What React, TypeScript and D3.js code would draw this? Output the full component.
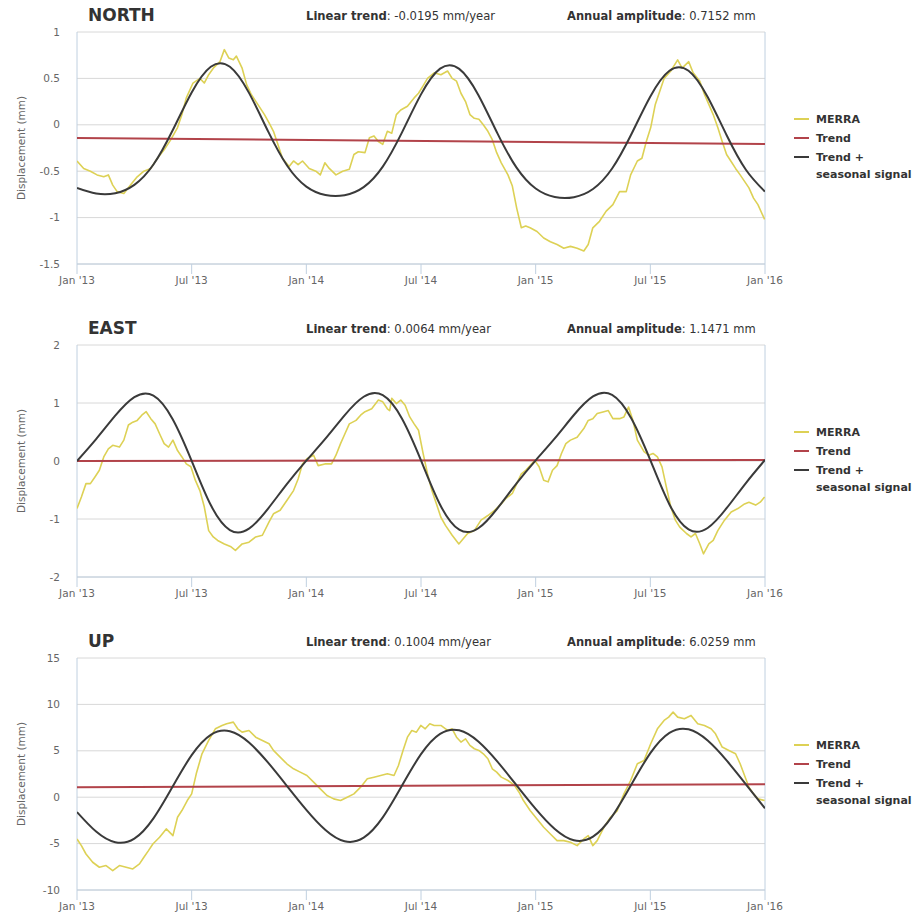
import React from "react";
import * as d3 from "d3";

// ---------- data ----------
const monthTickLabels = ["Jan '13", "Jul '13", "Jan '14", "Jul '14", "Jan '15", "Jul '15", "Jan '16"];
const monthTicks = [0, 6, 12, 18, 24, 30, 36];
const legendItems = ["MERRA", "Trend", "Trend +", "seasonal signal"];

const northTicks = [1, 0.5, 0, -0.5, -1, -1.5];
const eastTicks = [2, 1, 0, -1, -2];
const upTicks = [15, 10, 5, 0, -5, -10];

// [month offset from Jan 2013, displacement mm]
const merraNorth: [number, number][] = [
  [0, -0.39], [0.35, -0.47], [0.7, -0.5], [1.05, -0.54], [1.4, -0.56], [1.64, -0.54], [1.87, -0.65], [2.1, -0.72], [2.45, -0.74], [2.8, -0.65],
  [3.15, -0.56], [3.5, -0.5], [3.86, -0.47], [4.21, -0.36], [4.56, -0.27], [4.91, -0.16], [5.26, -0.03], [5.49, 0.11], [5.72, 0.29], [6.07, 0.45],
  [6.43, 0.5], [6.66, 0.45], [6.89, 0.54], [7.13, 0.61], [7.48, 0.68], [7.71, 0.81], [7.94, 0.72], [8.18, 0.7], [8.34, 0.74], [8.64, 0.61],
  [8.88, 0.43], [9.11, 0.33], [9.46, 0.22], [9.81, 0.11], [10.05, 0.02], [10.28, -0.07], [10.51, -0.21], [10.75, -0.36], [11.1, -0.45], [11.33, -0.39],
  [11.57, -0.43], [11.8, -0.39], [12.15, -0.47], [12.5, -0.5], [12.73, -0.54], [12.97, -0.41], [13.2, -0.47], [13.55, -0.54], [13.9, -0.5], [14.25, -0.48],
  [14.49, -0.32], [14.72, -0.29], [15.07, -0.3], [15.3, -0.14], [15.54, -0.12], [15.77, -0.18], [16.0, -0.21], [16.24, -0.07], [16.47, -0.09], [16.71, 0.11],
  [16.94, 0.16], [17.29, 0.2], [17.64, 0.29], [17.87, 0.34], [18.11, 0.42], [18.34, 0.5], [18.69, 0.56], [19.04, 0.54], [19.39, 0.58], [19.63, 0.5],
  [19.86, 0.47], [20.09, 0.34], [20.33, 0.25], [20.56, 0.11], [20.79, 0.07], [21.03, 0.06], [21.26, 0.0], [21.5, -0.07], [21.73, -0.16], [21.96, -0.3],
  [22.2, -0.41], [22.55, -0.54], [22.78, -0.66], [23.01, -0.9], [23.25, -1.11], [23.48, -1.09], [23.71, -1.11], [24.07, -1.15], [24.42, -1.22], [24.77, -1.26],
  [25.12, -1.29], [25.47, -1.33], [25.82, -1.31], [26.17, -1.33], [26.52, -1.36], [26.75, -1.29], [26.99, -1.11], [27.34, -1.04], [27.69, -0.93], [28.04, -0.86],
  [28.39, -0.72], [28.74, -0.72], [28.97, -0.54], [29.32, -0.39], [29.56, -0.36], [29.79, -0.18], [30.02, -0.03], [30.26, 0.22], [30.49, 0.36], [30.72, 0.5],
  [31.07, 0.58], [31.43, 0.7], [31.66, 0.61], [32.01, 0.68], [32.24, 0.56], [32.59, 0.47], [32.83, 0.33], [33.06, 0.22], [33.29, 0.11], [33.53, -0.03],
  [33.76, -0.18], [33.99, -0.32], [34.21, -0.39], [34.46, -0.47], [34.7, -0.54], [34.93, -0.61], [35.16, -0.68], [35.4, -0.79], [35.63, -0.86], [35.98, -1.02],
];

const merraEast: [number, number][] = [
  [0, -0.82], [0.23, -0.62], [0.47, -0.39], [0.7, -0.39], [0.93, -0.28], [1.17, -0.16], [1.4, 0.07], [1.64, 0.21], [1.87, 0.27], [2.22, 0.24],
  [2.45, 0.36], [2.69, 0.62], [2.92, 0.67], [3.15, 0.7], [3.39, 0.79], [3.62, 0.85], [3.86, 0.73], [4.09, 0.64], [4.32, 0.47], [4.56, 0.3],
  [4.79, 0.24], [5.02, 0.36], [5.26, 0.18], [5.49, 0.07], [5.72, -0.05], [5.96, -0.1], [6.19, -0.33], [6.43, -0.51], [6.66, -0.79], [6.89, -1.2],
  [7.13, -1.31], [7.36, -1.37], [7.71, -1.43], [8.06, -1.48], [8.29, -1.54], [8.64, -1.43], [9.0, -1.4], [9.35, -1.31], [9.7, -1.28], [10.05, -1.05],
  [10.28, -0.91], [10.63, -0.85], [10.98, -0.68], [11.33, -0.51], [11.57, -0.31], [11.8, -0.05], [12.03, 0.04], [12.38, 0.1], [12.62, -0.08], [12.97, -0.05],
  [13.32, -0.05], [13.55, 0.1], [13.79, 0.3], [14.02, 0.47], [14.25, 0.64], [14.6, 0.7], [14.84, 0.79], [15.07, 0.85], [15.42, 0.9], [15.77, 1.05],
  [16.0, 1.02], [16.24, 0.9], [16.36, 0.87], [16.47, 1.08], [16.71, 0.99], [16.94, 1.05], [17.17, 0.96], [17.41, 0.76], [17.64, 0.64], [17.87, 0.53],
  [18.11, 0.13], [18.34, -0.22], [18.57, -0.51], [18.81, -0.74], [19.04, -0.97], [19.28, -1.11], [19.63, -1.28], [19.98, -1.43], [20.21, -1.34], [20.44, -1.25],
  [20.79, -1.2], [21.14, -1.02], [21.5, -0.94], [21.85, -0.85], [22.2, -0.74], [22.43, -0.65], [22.78, -0.56], [23.01, -0.39], [23.25, -0.22], [23.48, -0.16],
  [23.71, -0.08], [23.95, 0.01], [24.18, -0.1], [24.42, -0.33], [24.65, -0.36], [24.88, -0.16], [25.12, -0.08], [25.35, 0.13], [25.58, 0.3], [25.82, 0.36],
  [26.17, 0.41], [26.52, 0.56], [26.75, 0.7], [26.99, 0.73], [27.22, 0.82], [27.57, 0.85], [27.8, 0.87], [28.04, 0.73], [28.39, 0.73], [28.62, 0.76],
  [28.86, 0.93], [29.09, 0.7], [29.32, 0.36], [29.67, 0.16], [29.91, 0.1], [30.14, 0.13], [30.37, 0.07], [30.61, -0.1], [30.84, -0.45], [31.07, -0.79],
  [31.31, -1.02], [31.54, -1.14], [31.89, -1.25], [32.13, -1.31], [32.36, -1.25], [32.59, -1.43], [32.78, -1.6], [33.06, -1.43], [33.29, -1.37], [33.53, -1.2],
  [33.88, -1.02], [34.23, -0.88], [34.58, -0.82], [34.93, -0.74], [35.16, -0.71], [35.51, -0.76], [35.75, -0.71], [35.98, -0.62],
];

const merraUp: [number, number][] = [
  [0, -4.5], [0.23, -5.22], [0.47, -6.12], [0.82, -7.01], [1.17, -7.55], [1.52, -7.37], [1.87, -7.91], [2.22, -7.37], [2.57, -7.55], [2.92, -7.73],
  [3.27, -7.19], [3.5, -6.47], [3.74, -5.76], [3.97, -5.04], [4.32, -4.32], [4.67, -3.42], [5.02, -4.14], [5.26, -2.16], [5.49, -1.44], [5.77, -0.36],
  [6.0, 0.36], [6.24, 2.52], [6.54, 4.68], [6.89, 6.12], [7.24, 7.37], [7.59, 7.73], [7.83, 7.91], [8.18, 8.09], [8.41, 7.37], [8.64, 7.01],
  [9.0, 7.19], [9.35, 6.47], [9.7, 6.12], [10.05, 5.76], [10.28, 5.04], [10.63, 4.32], [10.98, 3.6], [11.33, 3.06], [11.68, 2.7], [12.03, 2.34],
  [12.38, 1.62], [12.73, 0.9], [13.08, 0.18], [13.43, -0.18], [13.79, -0.36], [14.14, 0.0], [14.49, 0.36], [14.84, 1.08], [15.19, 1.98], [15.54, 2.16],
  [15.89, 2.34], [16.24, 2.52], [16.59, 2.34], [16.82, 3.42], [17.06, 5.04], [17.29, 6.47], [17.52, 7.19], [17.76, 7.01], [17.99, 7.73], [18.22, 7.37],
  [18.46, 7.91], [18.69, 7.73], [19.04, 7.73], [19.39, 7.19], [19.63, 7.37], [19.86, 6.47], [20.09, 5.94], [20.33, 6.29], [20.56, 5.58], [20.79, 5.22],
  [21.03, 5.04], [21.26, 4.68], [21.5, 4.14], [21.73, 3.06], [21.96, 2.7], [22.2, 2.16], [22.55, 1.8], [22.9, 1.26], [23.13, 0.54], [23.36, -0.36],
  [23.71, -1.44], [24.07, -2.34], [24.42, -3.24], [24.77, -3.96], [25.12, -4.68], [25.47, -4.68], [25.82, -4.86], [26.17, -5.22], [26.52, -4.5], [26.75, -4.14],
  [26.99, -5.22], [27.22, -4.68], [27.57, -3.24], [27.92, -2.16], [28.27, -1.44], [28.62, 0.36], [28.97, 1.8], [29.32, 3.6], [29.67, 3.96], [30.02, 5.76],
  [30.37, 7.37], [30.72, 8.27], [30.96, 8.63], [31.19, 9.17], [31.43, 8.63], [31.78, 8.45], [32.13, 8.81], [32.48, 7.91], [32.83, 7.73], [33.18, 7.37],
  [33.41, 6.83], [33.76, 5.4], [34.11, 5.04], [34.46, 4.68], [34.7, 3.6], [34.93, 2.34], [35.16, 1.08], [35.4, 0.36], [35.63, -0.18], [35.98, -0.36],
];

// Trend + seasonal signal, monthly values (Jan '13 .. Jan '16)
const modelNorth = [
  -0.68, -0.74, -0.737, -0.647, -0.428, -0.062, 0.349, 0.626, 0.625, 0.344, -0.071, -0.441,
  -0.666, -0.756, -0.758, -0.671, -0.45, -0.084, 0.328, 0.605, 0.603, 0.322, -0.093, -0.462,
  -0.687, -0.778, -0.78, -0.692, -0.471, -0.105, 0.306, 0.583, 0.582, 0.3, -0.115, -0.484, -0.72,
];
const modelEast = [
  0, 0.377, 0.781, 1.102, 1.128, 0.726, 0.003, -0.76, -1.19, -1.165, -0.82, -0.39,
  0.006, 0.384, 0.787, 1.108, 1.134, 0.732, 0.009, -0.755, -1.185, -1.16, -0.815, -0.385,
  0.012, 0.39, 0.793, 1.114, 1.14, 0.738, 0.015, -0.75, -1.18, -1.155, -0.81, -0.38, 0.018,
];
const modelUp = [
  -1.6, -3.7, -4.852, -4.47, -2.283, 1.125, 4.532, 6.719, 7.101, 5.889, 3.72, 1.178,
  -1.364, -3.533, -4.745, -4.363, -2.177, 1.231, 4.639, 6.826, 7.208, 5.996, 3.827, 1.285,
  -1.257, -3.426, -4.639, -4.257, -2.07, 1.338, 4.746, 6.933, 7.315, 6.103, 3.934, 1.392, -1.2,
];

// Linear trend: value at Jan '13 and Jan '16
const trendNorth = [-0.142, -0.207];
const trendEast = [0.0, 0.019];
const trendUp = [1.08, 1.4];

const titles = ["NORTH", "EAST", "UP"];
const linearTrendTexts = ["-0.0195 mm/year", "0.0064 mm/year", "0.1004 mm/year"];
const amplitudeTexts = ["0.7152 mm", "1.1471 mm", "6.0259 mm"];

// ---------- styles ----------
const FONT = "'DejaVu Sans', Verdana, sans-serif";
const C_MERRA = "#DDD155";
const C_TREND = "#B2434A";
const C_MODEL = "#3A3A3A";
const C_GRID = "#D8D8D8";
const C_AXIS = "#C0D0E0";
const C_LABEL = "#666666";

const PLOT_LEFT = 77;
const PLOT_RIGHT = 765;
const PANEL_TOP0 = 32;
const PANEL_STEP = 313;
const PLOT_H = 232;

interface PanelProps {
  idx: number;
  merra: [number, number][];
  model: number[];
  trend: number[];
  ticks: number[];
}

function Panel({ idx, merra, model, trend, ticks }: PanelProps) {
  const top = PANEL_TOP0 + idx * PANEL_STEP;
  const bottom = top + PLOT_H;
  const x = d3.scaleLinear().domain([0, 36]).range([PLOT_LEFT, PLOT_RIGHT]);
  const y = d3.scaleLinear().domain([d3.min(ticks)!, d3.max(ticks)!]).range([bottom, top]);

  const lineXY = d3.line<[number, number]>().x((d) => x(d[0])).y((d) => y(d[1]));
  const modelLine = d3
    .line<number>()
    .x((_, i) => x(i))
    .y((d) => y(d))
    .curve(d3.curveNatural);
  const trendPts: [number, number][] = [[0, trend[0]], [36, trend[1]]];
  const clipId = `clip-${idx}`;

  const legendY0 = top + 87;
  const legendColors = [C_MERRA, C_TREND, C_MODEL];

  return (
    <g>
      <defs>
        <clipPath id={clipId}>
          <rect x={PLOT_LEFT} y={top - 2} width={PLOT_RIGHT - PLOT_LEFT} height={PLOT_H + 4} />
        </clipPath>
      </defs>
      {/* title row */}
      <text x={88} y={top - 11} fontFamily={FONT} fontSize={17} fontWeight="bold" fill="#333">
        {titles[idx]}
      </text>
      <text x={306} y={top - 12} fontFamily={FONT} fontSize={11.6} fill="#333">
        <tspan fontWeight="bold">Linear trend</tspan>
        <tspan>: {linearTrendTexts[idx]}</tspan>
      </text>
      <text x={567} y={top - 12} fontFamily={FONT} fontSize={11.5} fill="#333">
        <tspan fontWeight="bold">Annual amplitude</tspan>
        <tspan>: {amplitudeTexts[idx]}</tspan>
      </text>

      {/* grid */}
      {ticks.map((t) => (
        <line key={t} x1={PLOT_LEFT} x2={PLOT_RIGHT} y1={y(t)} y2={y(t)} stroke={C_GRID} strokeWidth={1} />
      ))}
      {/* y labels */}
      {ticks.map((t) => (
        <text
          key={"l" + t}
          x={60}
          y={y(t)}
          dy="0.35em"
          textAnchor="end"
          fontFamily={FONT}
          fontSize={10.5}
          fill={C_LABEL}
        >
          {String(t)}
        </text>
      ))}
      {/* y title */}
      <text
        transform={`translate(25, ${(top + bottom) / 2}) rotate(-90)`}
        textAnchor="middle"
        fontFamily={FONT}
        fontSize={10.5}
        fill={C_LABEL}
      >
        Displacement (mm)
      </text>

      {/* axes */}
      <line x1={PLOT_LEFT} x2={PLOT_LEFT} y1={top} y2={bottom} stroke={C_AXIS} strokeWidth={1} />
      <line x1={PLOT_RIGHT} x2={PLOT_RIGHT} y1={top} y2={bottom} stroke={C_AXIS} strokeWidth={1} />
      <line x1={PLOT_LEFT} x2={PLOT_RIGHT} y1={bottom} y2={bottom} stroke={C_AXIS} strokeWidth={1} />
      {monthTicks.map((m, i) => (
        <g key={"x" + m}>
          <line x1={x(m)} x2={x(m)} y1={bottom} y2={bottom + 10} stroke={C_AXIS} strokeWidth={1} />
          <text
            x={x(m)}
            y={bottom + 16}
            dy="0.35em"
            textAnchor="middle"
            fontFamily={FONT}
            fontSize={10.5}
            fill={C_LABEL}
          >
            {monthTickLabels[i]}
          </text>
        </g>
      ))}

      {/* series */}
      <g clipPath={`url(#${clipId})`}>
        <path d={lineXY(merra)!} fill="none" stroke={C_MERRA} strokeWidth={1.6} strokeLinejoin="round" />
        <path d={lineXY(trendPts)!} fill="none" stroke={C_TREND} strokeWidth={2} />
        <path d={modelLine(model)!} fill="none" stroke={C_MODEL} strokeWidth={2} />
      </g>

      {/* legend */}
      {[0, 1, 2].map((k) => (
        <line
          key={"lg" + k}
          x1={794}
          x2={809}
          y1={legendY0 + k * 19}
          y2={legendY0 + k * 19}
          stroke={legendColors[k]}
          strokeWidth={2}
        />
      ))}
      {legendItems.map((s, k) => (
        <text
          key={"lt" + k}
          x={816}
          y={legendY0 + (k < 3 ? k * 19 : 2 * 19 + 17)}
          dy="0.35em"
          fontFamily={FONT}
          fontSize={11}
          fontWeight="bold"
          fill="#333"
        >
          {s}
        </text>
      ))}
    </g>
  );
}

export default function App() {
  const merras = [merraNorth, merraEast, merraUp];
  const models = [modelNorth, modelEast, modelUp];
  const trends = [trendNorth, trendEast, trendUp];
  const tickSets = [northTicks, eastTicks, upTicks];
  return (
    <svg
      width={924}
      height={913}
      style={{ position: "absolute", left: 0, top: 0, background: "#fff" }}
    >
      <rect x={0} y={0} width={924} height={913} fill="#fff" />
      {[0, 1, 2].map((i) => (
        <Panel key={i} idx={i} merra={merras[i]} model={models[i]} trend={trends[i]} ticks={tickSets[i]} />
      ))}
    </svg>
  );
}
